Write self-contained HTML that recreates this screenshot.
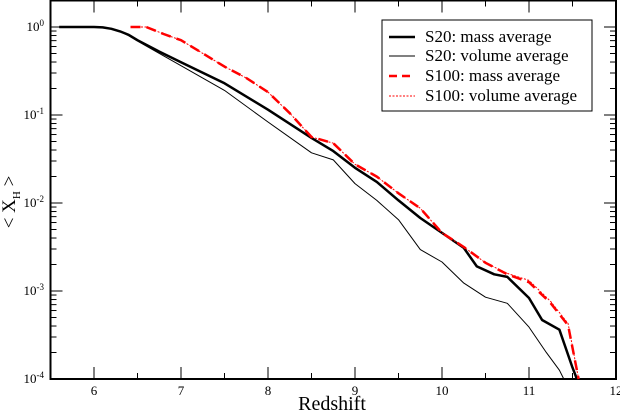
<!DOCTYPE html>
<html><head><meta charset="utf-8"><style>
body{margin:0;background:#fff;}
svg{display:block;font-family:"Liberation Serif",serif;}
</style></head><body>
<svg id="chart" width="620" height="413" viewBox="0 0 620 413">
<g id="axes"></g>
<g id="series"></g>
<g id="legend">
  <rect x="382" y="20" width="210" height="91" fill="#fff" stroke="#000" stroke-width="1"/>
  <line x1="389" y1="37" x2="415" y2="37" stroke="#000" stroke-width="2.5"/>
  <text x="425" y="42" font-size="17">S20: mass average</text>
  <line x1="389" y1="56" x2="415" y2="56" stroke="#000" stroke-width="1"/>
  <text x="425" y="61" font-size="17">S20: volume average</text>
  <line x1="389" y1="76" x2="415" y2="76" stroke="#f00" stroke-width="2.5" stroke-dasharray="8,5"/>
  <text x="425" y="81" font-size="17">S100: mass average</text>
  <line x1="389" y1="96" x2="415" y2="96" stroke="#f00" stroke-width="1" stroke-dasharray="2,1.5"/>
  <text x="425" y="101" font-size="17">S100: volume average</text>
</g>
<text x="332" y="410" font-size="20" text-anchor="middle">Redshift</text>
<text transform="translate(15,202) rotate(-90)" font-size="19" text-anchor="middle">&lt; X<tspan font-size="11" dy="5">H</tspan><tspan dy="-5"> &gt;</tspan></text>
</svg>
<script>
const xTicks = [6,7,8,9,10,11,12];
const yDecades = [0,-1,-2,-3,-4];
const s20MassZ = [5.6,6.0,6.1,6.2,6.3,6.4,6.5,6.75,7,7.5,8,8.5,8.75,9,9.25,9.5,9.75,10,10.25,10.4,10.6,10.75,11,11.15,11.35,11.5,11.55];
const s20MassLog = [0,0,-0.005,-0.02,-0.05,-0.09,-0.15,-0.28,-0.4,-0.64,-0.94,-1.26,-1.41,-1.6,-1.76,-1.97,-2.17,-2.34,-2.51,-2.72,-2.81,-2.84,-3.08,-3.33,-3.44,-3.87,-4.0];
const s20VolZ = [5.6,6.0,6.1,6.2,6.3,6.4,6.5,6.75,7,7.5,8,8.5,8.75,9,9.25,9.5,9.75,10,10.25,10.5,10.75,11,11.2,11.35,11.4];
const s20VolLog = [0,0,-0.005,-0.02,-0.05,-0.1,-0.16,-0.3,-0.44,-0.72,-1.08,-1.43,-1.51,-1.78,-1.97,-2.19,-2.53,-2.67,-2.91,-3.07,-3.14,-3.41,-3.7,-3.9,-4.0];
const s100MassZ = [6.42,6.6,6.8,7,7.25,7.5,7.75,8,8.25,8.5,8.75,9,9.25,9.5,9.75,10,10.25,10.5,10.75,11,11.25,11.45,11.57];
const s100MassLog = [0,0,-0.08,-0.15,-0.3,-0.45,-0.58,-0.74,-0.98,-1.25,-1.32,-1.56,-1.7,-1.89,-2.06,-2.34,-2.5,-2.68,-2.81,-2.9,-3.14,-3.39,-4.0];
const s100VolZ = [6.42,6.6,6.8,7,7.25,7.5,7.75,8,8.25,8.5,8.75,9,9.25,9.5,9.75,10,10.25,10.5,10.75,11,11.25,11.45,11.57];
const s100VolLog = [0,0,-0.08,-0.15,-0.3,-0.45,-0.58,-0.74,-0.98,-1.25,-1.32,-1.56,-1.7,-1.89,-2.06,-2.34,-2.5,-2.68,-2.8,-2.88,-3.12,-3.37,-4.0];

const L=50.5,R=616,T=0.5,B=379;
function xs(z){return L+(z-5.5)*(R-L)/6.5;}
function ys(l){return 27-l*88;}
const NS='http://www.w3.org/2000/svg';
function mk(tag,attrs,parent){const e=document.createElementNS(NS,tag);for(const k in attrs)e.setAttribute(k,attrs[k]);parent.appendChild(e);return e;}
const axes=document.getElementById('axes');
const frame=mk('rect',{x:L,y:T,width:R-L,height:B-T,fill:'none',stroke:'#000','stroke-width':2},axes);


for(let z=6;z<=11.5;z+=0.5){
  const major=Number.isInteger(z);const len=major?12:6;const x=xs(z);
  const t1=mk('line',{x1:x,y1:B,x2:x,y2:B-len,stroke:'#000','stroke-width':1},axes);
  
  
  const t2=mk('line',{x1:x,y1:T,x2:x,y2:T+len,stroke:'#000','stroke-width':1},axes);
  
  
}
xTicks.forEach(v=>{
  const t=mk('text',{x:xs(v),y:B+16,'font-size':13,'text-anchor':'middle'},axes);t.textContent=v;
  
  
});
yDecades.forEach(d=>{
  const y=ys(d);
  const t=mk('text',{x:44,y:y+4,'font-size':13,'text-anchor':'end'},axes);
  t.innerHTML='10<tspan font-size="9" dy="-5">'+d+'</tspan>';
  
  
  for(let m=1;m<=9;m++){
    const yy=ys(d+Math.log10(m));
    if(yy<T+1)continue;
    const len=m===1?12:6;
    const a=mk('line',{x1:L,y1:yy,x2:L+len,y2:yy,stroke:'#000','stroke-width':1},axes);
    
    
    const b=mk('line',{x1:R,y1:yy,x2:R-len,y2:yy,stroke:'#000','stroke-width':1},axes);
    
    
  }
});
const sg=document.getElementById('series');
function line(zs,ls,attrs,name){
  const d=zs.map((z,i)=>(i?'L':'M')+xs(z).toFixed(1)+','+ys(ls[i]).toFixed(1)).join('');
  const p=mk('path',Object.assign({d:d,fill:'none','stroke-linejoin':'round'},attrs),sg);
  
  
}
line(s20VolZ,s20VolLog,{stroke:'#000','stroke-width':1},'s20-volume-line');
line(s20MassZ,s20MassLog,{stroke:'#000','stroke-width':2.5},'s20-mass-line');
line(s100VolZ,s100VolLog,{stroke:'#f00','stroke-width':1,'stroke-dasharray':'2,1.5'},'s100-volume-line');
line(s100MassZ,s100MassLog,{stroke:'#f00','stroke-width':2.5,'stroke-dasharray':'10,6'},'s100-mass-line');
</script>
</body></html>
